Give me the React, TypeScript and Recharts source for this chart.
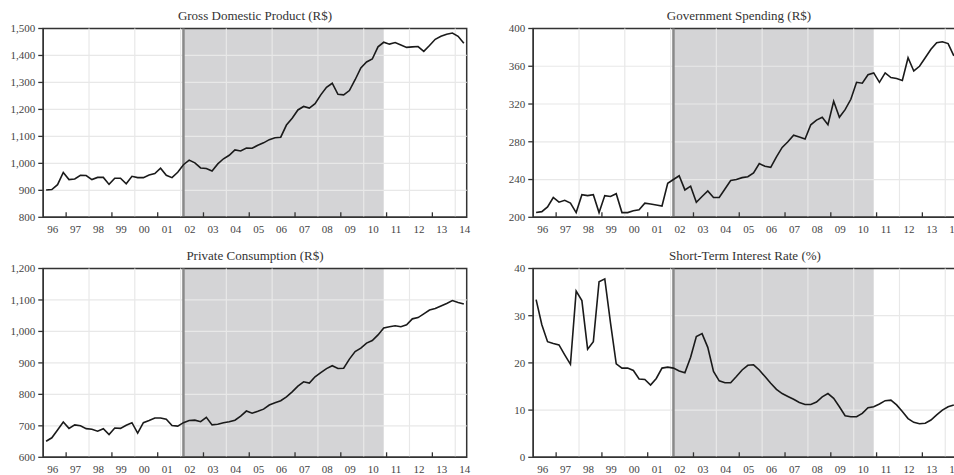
import React from 'react';
import { LineChart, Line, XAxis, YAxis, ReferenceArea, ReferenceLine } from 'recharts';

// quarterly series, 1996Q1 .. 2014Q2
const startYear = 1996;

const gdp = [
  901, 903, 921, 966, 940, 942, 956, 955, 940, 948, 948, 922, 945, 945, 924, 952,
  947, 947, 957, 962, 982, 956, 947, 967, 995, 1012, 1002, 983, 981, 972, 998, 1017,
  1030, 1050, 1046, 1057, 1056, 1067, 1076, 1088, 1095, 1097, 1142, 1167, 1198, 1211, 1205, 1221,
  1254, 1282, 1297, 1256, 1254, 1270, 1310, 1354, 1376, 1387, 1432, 1449, 1442, 1448, 1439, 1430,
  1432, 1433, 1415, 1437, 1460, 1471, 1479, 1483, 1471, 1445,
];

const govSpending = [
  205, 206, 211, 221, 216, 218, 215, 205, 224, 223, 224, 205, 223, 222, 225, 205,
  205, 207, 208, 215, 214, 213, 212, 236, 240, 244, 229, 233, 216, 222, 228, 221,
  221, 230, 239, 240, 242, 243, 247, 257, 254, 253, 264, 274, 280, 287, 285, 283,
  298, 303, 306, 298, 323, 306, 314, 325, 343, 342, 351, 353, 343, 353, 348, 347,
  345, 369, 355, 360, 369, 378, 385, 386, 384, 371,
];

const privateConsumption = [
  651, 662, 687, 712, 692, 703, 700, 691, 689, 683, 691, 672, 693, 692, 702, 710,
  677, 710, 717, 725, 725, 721, 701, 699, 710, 717, 718, 713, 727, 703, 705, 710,
  713, 718, 731, 747, 740, 746, 753, 766, 773, 780, 792, 808, 826, 840, 836, 856,
  869, 882, 891, 882, 883, 912, 936, 947, 963, 971, 989, 1011, 1015, 1018, 1015, 1021,
  1040, 1044, 1056, 1068, 1073, 1081, 1089, 1098, 1092, 1087,
];

const interestRate = [
  33.4, 28.1, 24.5, 24.1, 23.8, 21.7, 19.7, 35.2, 33.2, 22.9, 24.5, 37.2, 37.8, 28.5, 19.8, 18.9,
  18.9, 18.4, 16.6, 16.5, 15.3, 16.7, 18.9, 19.1, 18.9, 18.3, 17.9, 21.2, 25.6, 26.2, 23.3, 18.2,
  16.2, 15.8, 15.8, 17.1, 18.5, 19.5, 19.6, 18.5, 17.1, 15.7, 14.4, 13.5, 12.9, 12.3, 11.6, 11.2,
  11.2, 11.7, 12.8, 13.5, 12.5, 10.7, 8.8, 8.6, 8.6, 9.3, 10.5, 10.7, 11.3, 12.0, 12.1, 11.1,
  9.7, 8.2, 7.4, 7.1, 7.2, 7.9, 9.0, 10.0, 10.7, 11.1,
];

const quarters = gdp.map((_, i) => `${startYear + Math.floor(i / 4)}Q${(i % 4) + 1}`);

const yearLabels = ['96', '97', '98', '99', '00', '01', '02', '03', '04', '05', '06', '07', '08', '09', '10', '11', '12', '13', '14'];
const gridYears = [1998, 2000, 2002, 2004, 2006, 2008, 2010, 2012, 2014];
const tickYears = [1997, 1999, 2001, 2003, 2005, 2007, 2009, 2011, 2013];

const shadeStart = '2002Q1';
const shadeEnd = '2010Q4';

const gdpTicks = [800, 900, 1000, 1100, 1200, 1300, 1400, 1500];
const govTicks = [200, 240, 280, 320, 360, 400];
const pcTicks = [600, 700, 800, 900, 1000, 1100, 1200];
const rateTicks = [0, 10, 20, 30, 40];

const toTime = (q: string) => Number(q.slice(0, 4)) + (Number(q.slice(5)) - 0.5) / 4;

const xMin = startYear;
const xMax = toTime(quarters[quarters.length - 1]) + 0.125;
const xTicks = [...tickYears, ...yearLabels.map((_, i) => startYear + i + 0.5)].sort((a, b) => a - b);

const FONT = 'Liberation Serif';
const W = 480;
const H = 240;

const YearTick = (props: any) => {
  const { x, y, payload } = props;
  const v = payload.value as number;
  if (Number.isInteger(v)) {
    return <line x1={x} x2={x} y1={y} y2={y - 5} stroke="#333" strokeWidth={1.3} />;
  }
  const label = yearLabels[Math.floor(v) - startYear];
  return (
    <text x={x - 2} y={y + 15.5} textAnchor="middle" fill="#444" fontSize={11} fontFamily={FONT}>
      {label}
    </text>
  );
};

interface PanelProps {
  title: string;
  values: number[];
  ticks: number[];
  left: number;
  top: number;
  titleShift?: number;
}

const Panel: React.FC<PanelProps> = ({ title, values, ticks, left, top, titleShift = 0 }) => {
  const data = quarters.map((q, i) => ({ t: toTime(q), v: values[i] }));
  const yMin = ticks[0];
  const yMax = ticks[ticks.length - 1];
  return (
    <div style={{ position: 'absolute', left, top, width: W, height: H }}>
      <LineChart width={W} height={H} data={data} margin={{ top: 28.5, right: 13.3, bottom: 2.7, left: 0 }}>
        <XAxis
          dataKey="t"
          type="number"
          domain={[xMin, xMax]}
          ticks={xTicks}
          interval={0}
          tick={<YearTick />}
          tickLine={false}
          tickSize={0}
          tickMargin={0}
          height={20}
          axisLine={{ stroke: '#333', strokeWidth: 1.5 }}
        />
        <YAxis
          type="number"
          domain={[yMin, yMax]}
          ticks={ticks}
          interval={0}
          width={43.25}
          tickSize={5}
          tickMargin={3}
          tickFormatter={(v: number) => v.toLocaleString('en-US')}
          tick={{ fill: '#444', fontSize: 11, fontFamily: FONT }}
          tickLine={{ stroke: '#333', strokeWidth: 1.3 }}
          axisLine={{ stroke: '#333', strokeWidth: 1.5 }}
        />
        <ReferenceArea
          x1={toTime(shadeStart)}
          x2={toTime(shadeEnd)}
          y1={yMin}
          y2={yMax}
          fill="#d4d4d6"
          fillOpacity={1}
          stroke="none"
        />
        {gridYears.map((yr) => (
          <ReferenceLine key={'gx' + yr} x={yr} stroke="#e8e8e8" strokeWidth={1.2} />
        ))}
        {ticks.slice(1, -1).map((t) => (
          <ReferenceLine key={'gy' + t} y={t} stroke="#e8e8e8" strokeWidth={1.2} />
        ))}
        <ReferenceLine x={toTime(shadeStart)} stroke="#8a8a8a" strokeWidth={2.5} />
        <ReferenceArea x1={xMin} x2={xMax} y1={yMin} y2={yMax} fill="none" stroke="#333" strokeWidth={1.5} />
        <Line
          type="linear"
          dataKey="v"
          stroke="#1a1a1a"
          strokeWidth={1.6}
          dot={false}
          isAnimationActive={false}
        />
      </LineChart>
      <svg width={W} height={28} style={{ position: 'absolute', left: 0, top: 0, pointerEvents: 'none' }}>
        <text x={43.25 + 423.5 / 2 + titleShift} y={19.5} textAnchor="middle" fill="#333" fontSize={13} fontFamily={FONT}>
          {title}
        </text>
      </svg>
    </div>
  );
};

export default function App() {
  return (
    <div style={{ position: 'fixed', left: 0, top: 0, width: 954, height: 475, overflow: 'hidden', background: '#fff' }}>
      <Panel title="Gross Domestic Product (R$)" values={gdp} ticks={gdpTicks} left={0} top={0} />
      <Panel title="Government Spending (R$)" values={govSpending} ticks={govTicks} left={490} top={0} titleShift={-6} />
      <Panel title="Private Consumption (R$)" values={privateConsumption} ticks={pcTicks} left={0} top={240} />
      <Panel title="Short-Term Interest Rate (%)" values={interestRate} ticks={rateTicks} left={490} top={240} />
    </div>
  );
}
